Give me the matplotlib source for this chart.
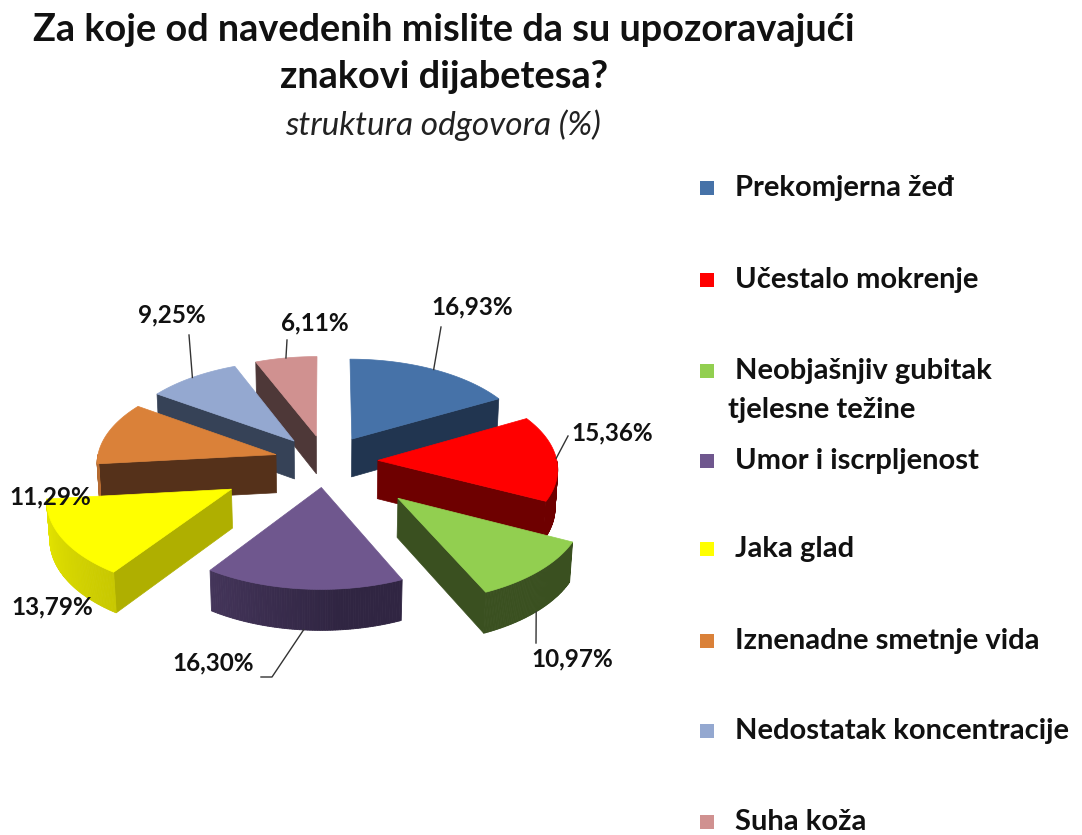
import numpy as np
import matplotlib.pyplot as plt
from matplotlib.patches import Polygon, Rectangle
from matplotlib.colors import to_rgb

plt.rcParams['font.family'] = ['Lato', 'DejaVu Sans']

# data
categories = ['Prekomjerna žeđ', 'Učestalo mokrenje', 'Neobjašnjiv gubitak\ntjelesne težine',
              'Umor i iscrpljenost', 'Jaka glad', 'Iznenadne smetnje vida',
              'Nedostatak koncentracije', 'Suha koža']
values = [16.93, 15.36, 10.97, 16.30, 13.79, 11.29, 9.25, 6.11]

# style
top_colors = ['#4672A8', '#FF0000', '#92CF50', '#6F578E', '#FFFF00', '#DA8139', '#94A8D0', '#D09190']
side_colors = ['#213550', '#6E0000', '#3A5020', '#302542', '#AFAF00', '#55311A', '#364257', '#4E3838']
explode = [0.29, 0.29, 0.56, 0.29, 0.6, 0.29, 0.29, 0.29]
label_pos = [(472, 307), (612, 433), (572, 659), (213, 663), (52, 607), (50, 497), (172, 315), (315, 323)]
leader_end = [(441, 327), (568, 436), (536, 643), (261, 677), None, None, (189, 335), (287, 340)]

CX, CY, R = 326, 461, 179
ALPHA = np.radians(30)
DIST = 11.0
H = 0.25


def project(x, z, y):
    u = y * np.cos(ALPHA) + z * np.sin(ALPHA)
    w = z * np.cos(ALPHA) - y * np.sin(ALPHA)
    s = DIST / (DIST + w)
    return np.column_stack([CX + x * s * R, CY - u * s * R])


def shade(c1, c2, t):
    c1, c2 = np.array(to_rgb(c1)), np.array(to_rgb(c2))
    return tuple(c1 + (c2 - c1) * t)


fig = plt.figure(figsize=(10.82, 8.35), dpi=100)
ax = fig.add_axes([0, 0, 1, 1])
ax.set_xlim(0, 1082)
ax.set_ylim(835, 0)
ax.axis('off')

cum = np.concatenate([[0], np.cumsum(values)]) / sum(values) * 360
slices = []
for i in range(len(values)):
    t_hi = 90 - cum[i]
    t_lo = 90 - cum[i + 1]
    mid = np.radians((t_hi + t_lo) / 2)
    ox, oz = explode[i] * np.cos(mid), explode[i] * np.sin(mid)
    depth = oz + 0.5 * np.sin(mid)
    slices.append((depth, i, t_lo, t_hi, ox, oz))

anchors = {}
for depth, i, t_lo, t_hi, ox, oz in sorted(slices, reverse=True):
    th = np.radians(np.linspace(t_lo, t_hi, 80))
    ax_ = ox + np.cos(th)
    az_ = oz + np.sin(th)
    # radial faces
    for t, vis in ((t_lo, np.cos(np.radians(t_lo)) > 0), (t_hi, np.cos(np.radians(t_hi)) < 0)):
        if vis:
            px, pz = ox + np.cos(np.radians(t)), oz + np.sin(np.radians(t))
            pts = np.vstack([project(np.array([ox, px]), np.array([oz, pz]), np.zeros(2)),
                             project(np.array([px, ox]), np.array([pz, oz]), np.full(2, -H))])
            ax.add_patch(Polygon(pts, closed=True, fc=side_colors[i], ec=side_colors[i], lw=0.5))
    # outer wall
    for k in range(len(th) - 1):
        tm = (th[k] + th[k + 1]) / 2
        if np.sin(tm) >= 0:
            continue
        deg = np.degrees(tm) % 360
        if deg < 90:
            deg += 360
        f = np.clip((deg - 175) / 100, 0, 1)
        col = shade(top_colors[i], side_colors[i], 0.2 + 0.8 * f)
        xs = ax_[k:k + 2]
        zs = az_[k:k + 2]
        pts = np.vstack([project(xs, zs, np.zeros(2)), project(xs[::-1], zs[::-1], np.full(2, -H))])
        ax.add_patch(Polygon(pts, closed=True, fc=col, ec=col, lw=0.6))
    # top face
    top = np.vstack([project(np.array([ox]), np.array([oz]), np.zeros(1)),
                     project(ax_, az_, np.zeros_like(ax_))])
    ax.add_patch(Polygon(top, closed=True, fc=top_colors[i], ec=top_colors[i], lw=0.5))
    m = np.radians((t_lo + t_hi) / 2)
    yb = -H if np.sin(m) < 0 else 0.0
    anchors[i] = project(np.array([ox + np.cos(m)]), np.array([oz + np.sin(m)]), np.array([yb]))[0]

# data labels
for i, v in enumerate(values):
    txt = f'{v:.2f}'.replace('.', ',') + '%'
    lx, ly = label_pos[i]
    ax.text(lx, ly, txt, ha='center', va='center', fontsize=17.5, fontweight='bold', color='#111111')
    if leader_end[i] is not None:
        a = anchors[i]
        ex, ey = leader_end[i]
        if i == 3:
            ax.plot([ex, ex + 11, a[0]], [ey, ey, a[1]], color='#333333', lw=1)
        else:
            ax.plot([ex, a[0]], [ey, a[1]], color='#333333', lw=1)

# title
ax.text(444, 30, 'Za koje od navedenih mislite da su upozoravajući', ha='center', va='center',
        fontsize=27.3, fontweight='bold', color='#111111')
ax.text(444, 77, 'znakovi dijabetesa?', ha='center', va='center',
        fontsize=27.3, fontweight='bold', color='#111111')
ax.text(443, 125, 'struktura odgovora (%)', ha='center', va='center',
        fontsize=24, fontstyle='italic', color='#222222')

# legend
leg_y = [188, 280, 371, 461, 549, 641, 731, 822]
for i, name in enumerate(categories):
    y = leg_y[i]
    ax.add_patch(Rectangle((700, y - 7), 14, 14, fc=top_colors[i], ec='none'))
    lines = name.split('\n')
    ax.text(735, y, lines[0], ha='left', va='center', fontsize=21, fontweight='bold', color='#111111')
    if len(lines) > 1:
        ax.text(728, y + 39, lines[1], ha='left', va='center', fontsize=21, fontweight='bold',
                color='#111111')

fig.savefig('out.png', dpi=100, facecolor='white')
